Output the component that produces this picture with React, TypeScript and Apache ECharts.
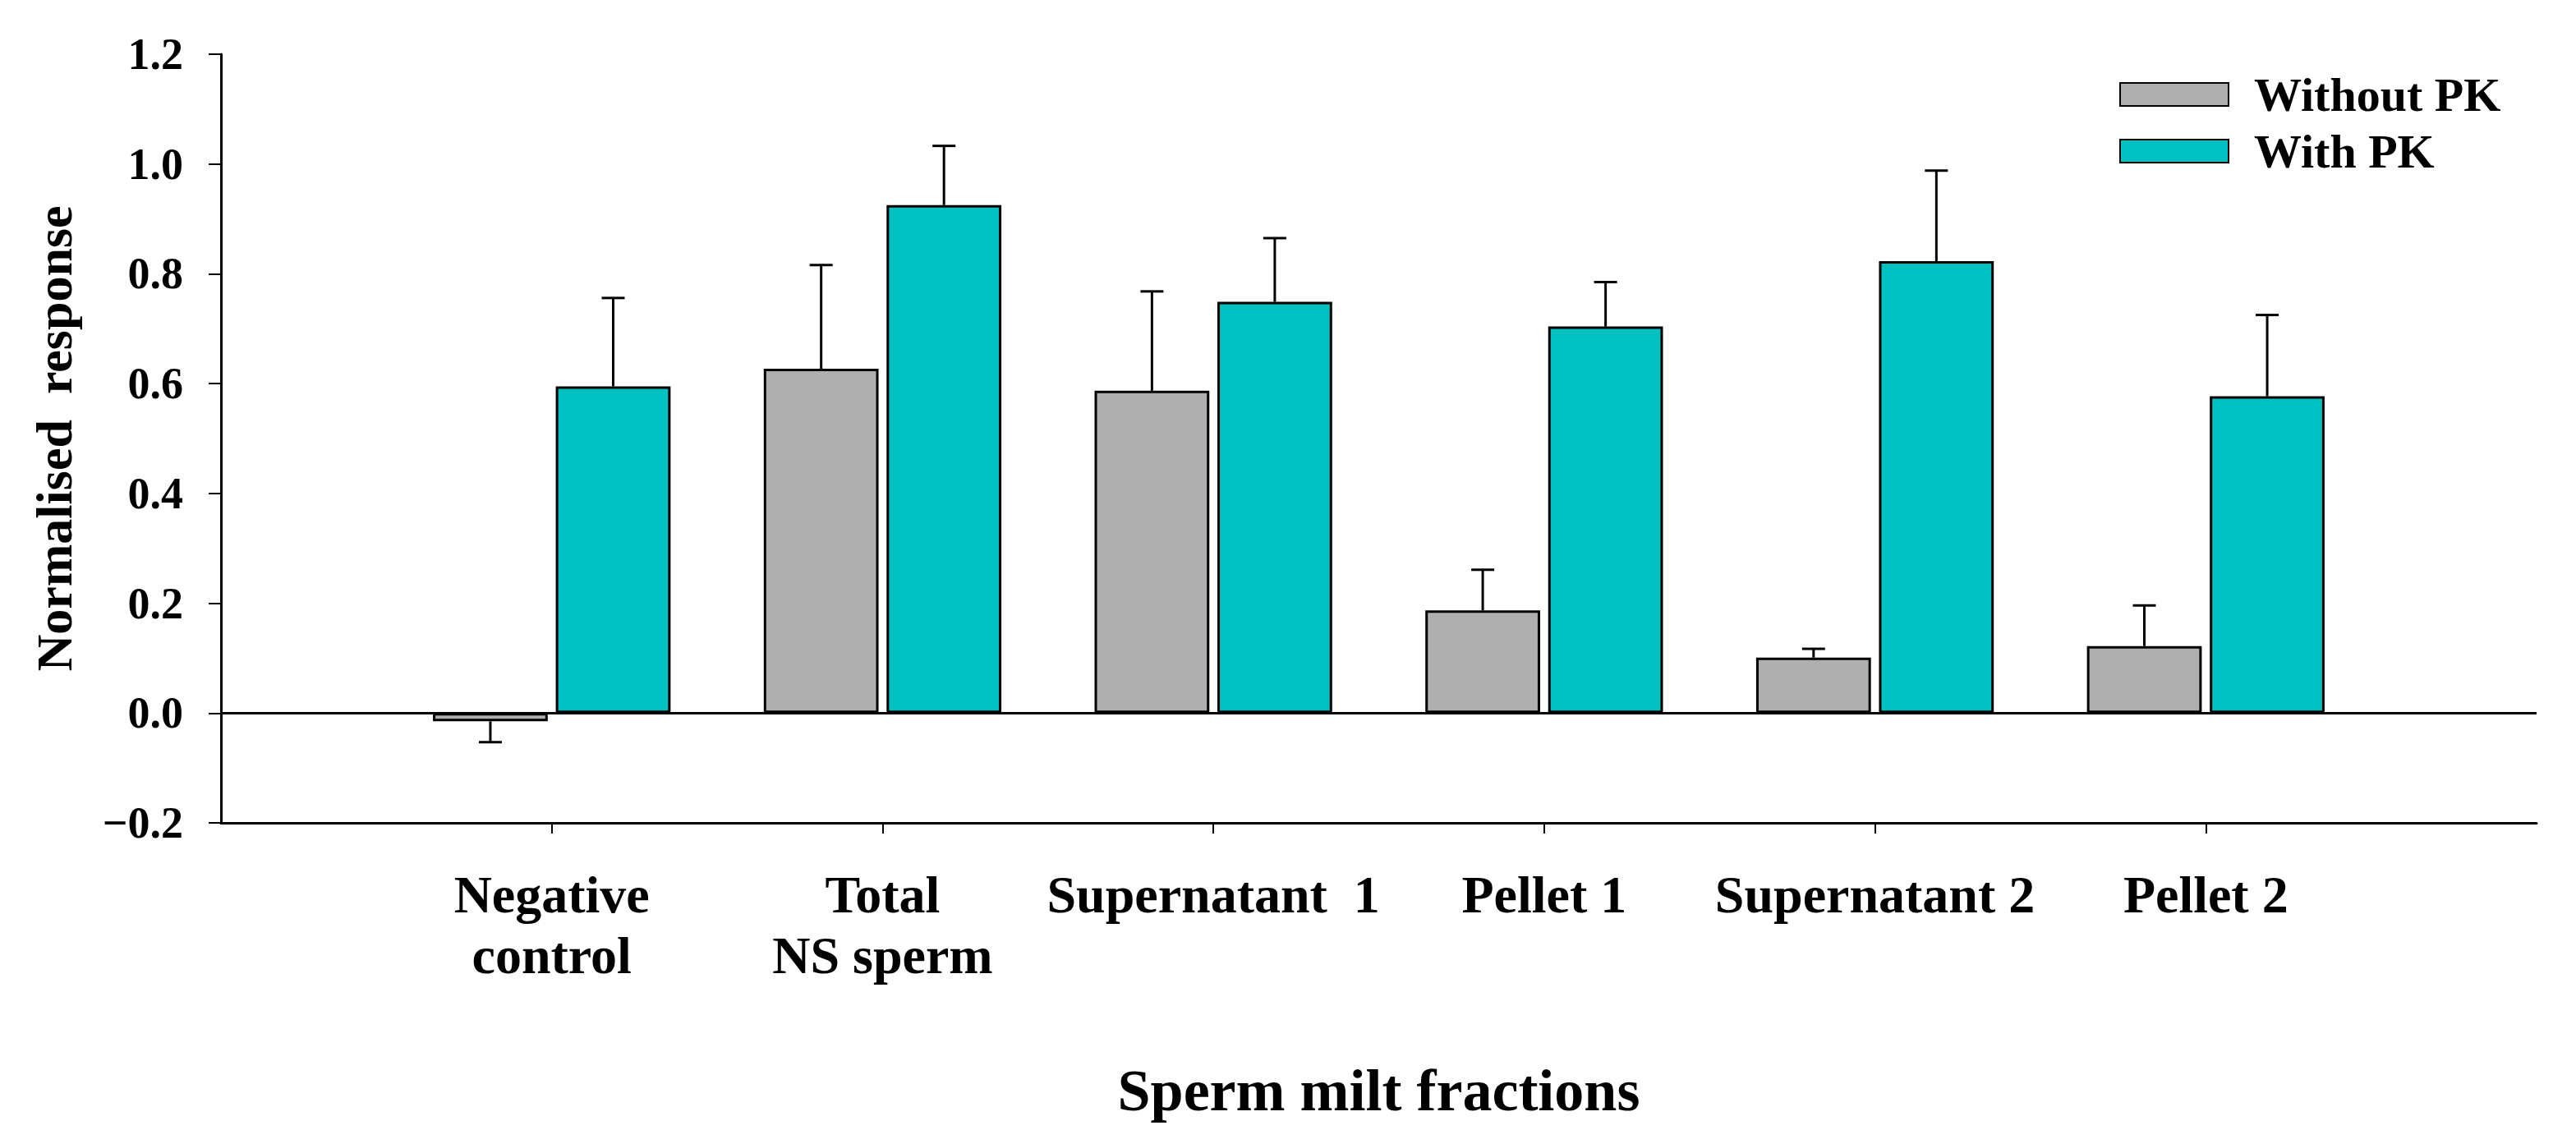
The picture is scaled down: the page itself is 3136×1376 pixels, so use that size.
import React, { useEffect, useRef } from 'react';
import * as echarts from 'echarts';

// blank slots at both ends keep the groups off the axis edges
const categories = ['', 'Negative\ncontrol', 'Total\nNS sperm', 'Supernatant  1', 'Pellet 1', 'Supernatant 2', 'Pellet 2', ''];
const withoutPK = [-0.015, 0.627, 0.587, 0.187, 0.101, 0.122];
const withoutPKErr = [-0.053, 0.816, 0.768, 0.261, 0.117, 0.196];
const withPK = [0.595, 0.925, 0.749, 0.704, 0.823, 0.577];
const withPKErr = [0.756, 1.033, 0.865, 0.785, 0.988, 0.725];
const yTicks = { min: -0.2, max: 1.2, interval: 0.2 };

const FONT = '"Liberation Serif", "Times New Roman", serif';
const BAR_WIDTH = 0.347; // share of the band
const BAR_GAP = 0.07; // share of a bar

const errorSeries = (name: string, vals: number[], errs: number[], side: number) => ({
  name,
  type: 'custom',
  z: 1,
  silent: true,
  renderItem: (params: any, api: any) => {
    const xi = api.value(0);
    const base = api.coord([xi, api.value(1)]);
    const end = api.coord([xi, api.value(2)]);
    const band = api.size([1, 0])[0];
    const x = base[0] + side * band * BAR_WIDTH * (1 + BAR_GAP) / 2;
    const cap = 14;
    const style = { stroke: '#000', lineWidth: 3 };
    return {
      type: 'group',
      children: [
        { type: 'line', shape: { x1: x, y1: base[1], x2: x, y2: end[1] }, style },
        { type: 'line', shape: { x1: x - cap, y1: end[1], x2: x + cap, y2: end[1] }, style }
      ]
    };
  },
  data: vals.map((v, i) => [i + 1, v, errs[i]])
});

const App: React.FC = () => {
  const chartRef = useRef<HTMLDivElement>(null);

  useEffect(() => {
    if (!chartRef.current) return;
    const chart = echarts.init(chartRef.current, null, { renderer: 'svg' });

    const pad = (arr: number[]) => [null, ...arr, null];

    const option: any = {
      animation: false,
      backgroundColor: '#fff',
      textStyle: { fontFamily: FONT, fontWeight: 'bold', color: '#000' },
      grid: { left: 269, right: 48, top: 66, bottom: 374 },
      legend: {
        data: ['Without PK', 'With PK'],
        orient: 'vertical',
        left: 2580,
        top: 86,
        padding: 0,
        itemWidth: 132,
        itemHeight: 28,
        itemGap: 11,
        icon: 'rect',
        textStyle: { fontFamily: FONT, fontWeight: 'bold', fontSize: 58, lineHeight: 56, color: '#000', padding: [0, 0, 0, 26] }
      },
      xAxis: {
        type: 'category',
        data: categories,
        boundaryGap: false,
        name: 'Sperm milt fractions',
        nameLocation: 'middle',
        nameGap: 290,
        nameTextStyle: { fontFamily: FONT, fontWeight: 'bold', fontSize: 72, color: '#000' },
        axisLine: { onZero: false, lineStyle: { color: '#000', width: 3 } },
        axisTick: { length: 13, lineStyle: { color: '#000', width: 2 }, interval: (i: number, v: string) => v !== '' },
        axisLabel: { interval: 0, fontFamily: FONT, fontWeight: 'bold', fontSize: 64, lineHeight: 74, color: '#000', margin: 50 },
        splitLine: { show: false }
      },
      yAxis: {
        type: 'value',
        min: yTicks.min,
        max: yTicks.max,
        interval: yTicks.interval,
        name: 'Normalised  response',
        nameLocation: 'middle',
        nameGap: 172,
        nameTextStyle: { fontFamily: FONT, fontWeight: 'bold', fontSize: 62, color: '#000' },
        axisLine: { show: true, lineStyle: { color: '#000', width: 3 } },
        axisTick: { show: true, length: 15, lineStyle: { color: '#000', width: 2 } },
        axisLabel: {
          fontFamily: FONT,
          fontWeight: 'bold',
          fontSize: 54,
          color: '#000',
          margin: 46,
          formatter: (v: number) => (v < 0 ? '\u2212' + Math.abs(v).toFixed(1) : v.toFixed(1))
        },
        splitLine: { show: false }
      },
      series: [
        {
          name: 'Without PK',
          type: 'bar',
          z: 2,
          data: pad(withoutPK),
          barWidth: BAR_WIDTH * 100 + '%',
          barGap: BAR_GAP * 100 + '%',
          itemStyle: { color: '#afafaf', borderColor: '#000', borderWidth: 3 },
          markLine: {
            silent: true,
            symbol: 'none',
            label: { show: false },
            lineStyle: { color: '#000', width: 3, type: 'solid' },
            data: [{ yAxis: 0 }]
          }
        },
        {
          name: 'With PK',
          type: 'bar',
          z: 2,
          data: pad(withPK),
          barWidth: BAR_WIDTH * 100 + '%',
          barGap: BAR_GAP * 100 + '%',
          itemStyle: { color: '#00c1c1', borderColor: '#000', borderWidth: 3 }
        },
        errorSeries('Without PK err', withoutPK, withoutPKErr, -1),
        errorSeries('With PK err', withPK, withPKErr, 1)
      ]
    };

    chart.setOption(option);
    const handleResize = () => chart.resize();
    window.addEventListener('resize', handleResize);
    return () => {
      window.removeEventListener('resize', handleResize);
      chart.dispose();
    };
  }, []);

  return (
    <div
      ref={chartRef}
      style={{ position: 'fixed', left: 0, top: 0, width: '3136px', height: '1376px' }}
    />
  );
};

export default App;
